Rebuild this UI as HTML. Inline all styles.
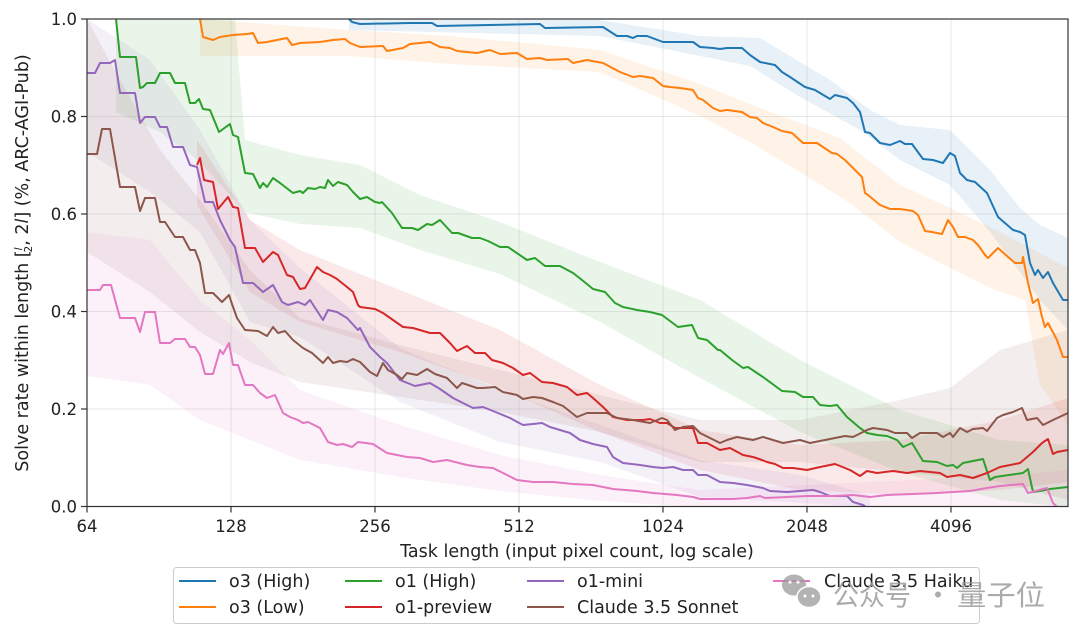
<!DOCTYPE html>
<html><head><meta charset="utf-8"><style>
html,body{margin:0;padding:0;background:#fff;}
svg{display:block;}
text{font-family:"DejaVu Sans","Liberation Sans",sans-serif;fill:#222;}
</style></head><body>
<svg width="1080" height="637" viewBox="0 0 1080 637" xmlns="http://www.w3.org/2000/svg">
<defs><clipPath id="pc"><rect x="87" y="19" width="981" height="488"/></clipPath></defs>
<rect x="0" y="0" width="1080" height="637" fill="#fff"/>
<g clip-path="url(#pc)">
<!-- bands -->
<g fill-opacity="0.1" stroke="none">
<polygon fill="#1f77b4" points="349,19 600,20 700,36 760,38 830,80 870,110 900,125 950,130 990,170 1020,208 1040,225 1068,238 1068,330 1040,300 1020,272 990,232 950,185 900,160 860,130 800,97 750,66 700,56 600,36 349,30"/>
<polygon fill="#ff7f0e" points="200,19 350,30 450,36 600,50 700,84 760,108 840,138 900,185 950,208 1000,232 1030,248 1068,268 1068,425 1040,385 1025,300 990,288 950,268 900,242 850,203 800,172 750,142 700,116 600,72 450,64 350,56 200,56"/>
<polygon fill="#2ca02c" points="116,19 235,19 245,140 300,155 360,165 420,195 500,222 600,262 700,300 800,360 900,410 1000,440 1068,445 1068,507 1000,500 900,472 800,432 700,378 600,322 500,274 420,250 360,228 300,224 245,212 200,162 160,132 116,112"/>
<polygon fill="#d62728" points="197,140 250,220 300,250 400,290 500,330 600,385 700,430 800,445 900,440 1000,420 1068,398 1068,482 1000,490 900,495 800,490 700,470 600,432 500,388 400,352 300,322 250,292 197,205"/>
<polygon fill="#9467bd" points="87,19 150,60 200,130 250,220 300,268 400,348 500,390 600,425 700,460 800,475 870,495 870,507 700,497 600,462 500,442 400,402 300,337 250,322 200,232 150,192 87,152"/>
<polygon fill="#8c564b" points="87,19 120,80 160,150 200,200 250,270 300,318 400,345 500,370 600,395 700,420 800,420 900,400 950,388 1000,350 1068,330 1068,500 1000,482 900,472 800,462 700,462 600,432 500,412 400,397 300,382 250,362 200,332 150,292 87,252"/>
<polygon fill="#e377c2" points="87,232 150,240 200,300 250,340 300,390 400,425 500,455 600,475 700,490 1000,476 1068,470 1068,507 700,507 600,501 500,491 400,477 330,465 300,460 250,440 200,420 150,385 87,376"/>
</g>
<!-- grid -->
<g stroke="#b0b0b0" stroke-opacity="0.3" stroke-width="1">
<line x1="87" y1="116.5" x2="1068" y2="116.5"/>
<line x1="87" y1="214" x2="1068" y2="214"/>
<line x1="87" y1="311.5" x2="1068" y2="311.5"/>
<line x1="87" y1="409" x2="1068" y2="409"/>
<line x1="231" y1="19" x2="231" y2="507"/>
<line x1="375" y1="19" x2="375" y2="507"/>
<line x1="519" y1="19" x2="519" y2="507"/>
<line x1="663" y1="19" x2="663" y2="507"/>
<line x1="807" y1="19" x2="807" y2="507"/>
<line x1="951" y1="19" x2="951" y2="507"/>
</g>
<!-- lines -->
<g fill="none" stroke-width="2" stroke-linejoin="round">
<polyline stroke="#1f77b4" points="349,19 352,22 360,24 410,23 432,23 437,26 540,24 545,28 603,27 617,36 627,36 633,38 637,36 647,36 663,42 693,42 700,47 713,48 720,49 727,48 742,48 750,55 760,62 775,65 782,72 790,77 805,87 815,90 830,99 835,95 847,98 853,103 860,112 865,132 870,133 880,143 890,145 900,141 905,144 912,144 923,159 933,160 943,163 950,153 955,156 960,173 967,180 975,182 987,193 998,217 1013,230 1020,232 1025,235 1030,263 1035,275 1038,270 1043,278 1048,272 1053,283 1063,300 1068,300"/>
<polyline stroke="#ff7f0e" points="200,19 203,37 213,40 220,37 233,35 247,34 253,33 258,43 267,42 277,40 287,38 292,45 300,43 320,42 333,40 345,39 350,43 360,47 383,46 387,51 403,48 410,44 430,42 440,47 450,48 457,51 477,53 490,50 500,54 517,53 527,59 540,58 547,60 568,59 573,63 587,60 603,63 620,72 633,77 640,76 653,78 663,86 670,87 680,88 693,90 698,98 703,100 713,108 720,111 727,110 742,112 750,117 757,118 763,123 773,127 782,131 792,133 803,143 817,143 832,153 837,154 845,160 857,172 862,177 865,193 868,195 880,205 890,209 900,209 913,211 918,215 925,231 932,232 942,234 948,220 953,227 958,237 965,237 973,240 978,245 985,255 988,258 998,248 1008,257 1015,263 1022,263 1023,257 1028,283 1033,303 1038,299 1042,317 1045,327 1048,323 1057,340 1063,357 1068,357"/>
<polyline stroke="#2ca02c" points="116,19 120,57 136,57 140,88 143,87 147,83 155,83 160,73 170,73 175,83 185,83 190,103 195,103 199,99 203,109 210,110 219,132 230,124 233,135 238,137 245,173 253,174 260,188 263,183 267,187 273,178 280,183 293,193 300,191 303,193 308,188 315,189 320,187 325,188 328,180 333,186 338,182 347,185 353,192 360,199 367,197 375,202 380,203 382,202 392,213 402,228 412,228 418,230 427,224 432,225 440,220 452,233 458,233 472,238 480,238 488,241 500,247 508,247 527,260 535,258 545,266 560,266 573,273 582,280 593,289 605,292 615,303 623,307 637,310 650,312 662,315 678,327 692,325 698,338 707,340 718,350 720,350 732,360 743,368 748,367 763,377 782,391 795,392 803,397 813,397 820,405 830,406 837,405 847,417 860,428 867,433 877,435 887,436 897,440 903,447 912,443 923,461 937,462 947,466 953,465 957,468 963,463 983,459 990,480 995,477 1023,473 1028,469 1033,492 1040,491 1050,489 1068,487"/>
<polyline stroke="#d62728" points="197,165 200,158 204,180 213,182 218,209 228,197 233,207 238,208 245,248 255,248 263,262 273,252 278,255 287,275 293,277 300,289 305,288 317,267 323,272 330,275 337,279 347,287 353,292 358,305 360,307 375,309 383,313 393,320 403,327 413,328 430,333 440,333 450,343 457,351 467,346 475,353 485,353 492,360 503,363 513,368 523,375 530,373 542,382 553,383 567,387 577,395 587,393 593,398 603,407 613,417 627,420 643,420 650,419 660,423 667,423 675,428 693,428 698,443 707,443 720,450 730,448 743,455 753,457 762,460 767,462 775,464 783,468 793,468 807,470 820,467 835,464 850,470 860,476 867,471 877,473 893,471 907,473 920,471 940,473 947,477 960,475 973,478 987,473 1000,467 1020,463 1033,452 1042,443 1048,439 1053,454 1057,452 1068,450"/>
<polyline stroke="#9467bd" points="87,73 95,73 100,63 110,63 115,60 120,93 135,93 140,123 145,117 155,117 160,127 167,127 173,147 183,147 190,165 197,167 205,202 213,202 220,220 230,240 235,247 243,283 253,283 263,292 273,285 282,302 288,305 298,302 305,305 310,300 323,320 328,310 337,312 347,318 358,330 360,328 370,347 380,357 387,363 400,380 415,386 430,383 440,389 453,398 463,403 473,408 483,407 493,411 510,418 523,425 533,424 542,423 550,427 560,430 570,433 580,440 593,444 607,447 613,457 623,463 640,465 653,467 663,468 673,467 683,470 693,470 698,475 707,475 720,482 733,483 747,485 763,488 770,491 787,492 813,490 820,492 830,496 847,496 853,502 863,505 866,507 1068,507"/>
<polyline stroke="#8c564b" points="87,154 97,154 102,129 110,129 120,187 135,187 140,211 145,198 155,198 160,222 165,222 175,237 183,237 190,250 195,250 200,263 205,293 213,293 222,302 229,295 232,304 237,318 245,330 258,331 267,336 273,327 278,333 285,331 293,340 303,348 312,353 323,363 328,357 333,363 340,361 347,362 353,359 360,362 370,372 377,376 383,363 388,370 397,375 402,379 407,373 417,375 427,369 435,374 447,378 457,388 462,383 477,388 483,388 495,387 503,392 517,395 523,399 533,397 542,398 553,402 563,406 577,417 587,413 607,413 617,418 633,420 650,423 662,418 667,420 675,430 683,427 693,426 700,433 710,438 720,443 727,440 737,437 753,440 763,437 773,440 783,443 800,440 810,443 830,439 845,436 853,437 867,430 873,428 887,430 895,433 907,433 912,438 920,433 937,433 943,437 950,433 953,437 960,428 967,432 973,429 983,428 987,431 997,418 1003,415 1013,412 1022,408 1027,420 1037,418 1043,425 1053,420 1068,413"/>
<polyline stroke="#e377c2" points="87,290 100,290 103,285 111,285 120,318 135,318 140,332 145,312 155,312 160,343 170,343 175,339 185,339 190,347 195,347 200,355 205,374 213,374 220,350 223,354 229,343 233,365 238,365 245,385 253,385 260,393 267,398 275,395 283,413 290,417 298,420 303,423 308,422 320,428 328,442 337,445 343,444 352,447 358,442 373,444 387,453 407,457 420,458 433,462 447,460 467,465 480,467 493,468 507,475 517,480 533,482 553,482 573,484 593,485 613,489 637,491 653,493 677,495 693,497 700,499 720,499 733,499 747,498 760,496 765,498 787,497 807,496 833,496 853,495 870,497 887,495 913,494 937,493 953,492 970,491 987,488 1000,486 1023,484 1028,493 1047,488 1053,503 1057,507 1068,507"/>
</g>
</g>
<!-- spines -->
<rect x="87" y="19" width="981" height="487.5" fill="none" stroke="#333" stroke-width="1.2"/>
<!-- ticks -->
<g stroke="#333" stroke-width="1.2">
<line x1="81" y1="19" x2="87" y2="19"/>
<line x1="81" y1="116.5" x2="87" y2="116.5"/>
<line x1="81" y1="214" x2="87" y2="214"/>
<line x1="81" y1="311.5" x2="87" y2="311.5"/>
<line x1="81" y1="409" x2="87" y2="409"/>
<line x1="81" y1="506.5" x2="87" y2="506.5"/>
<line x1="87" y1="506.5" x2="87" y2="512.5"/>
<line x1="231" y1="506.5" x2="231" y2="512.5"/>
<line x1="375" y1="506.5" x2="375" y2="512.5"/>
<line x1="519" y1="506.5" x2="519" y2="512.5"/>
<line x1="663" y1="506.5" x2="663" y2="512.5"/>
<line x1="807" y1="506.5" x2="807" y2="512.5"/>
<line x1="951" y1="506.5" x2="951" y2="512.5"/>
</g>
<g font-size="16.5" text-anchor="end">
<text x="77" y="25">1.0</text>
<text x="77" y="122.5">0.8</text>
<text x="77" y="220">0.6</text>
<text x="77" y="317.5">0.4</text>
<text x="77" y="415">0.2</text>
<text x="77" y="512.5">0.0</text>
</g>
<g font-size="16.5" text-anchor="middle">
<text x="87" y="532">64</text>
<text x="231" y="532">128</text>
<text x="375" y="532">256</text>
<text x="519" y="532">512</text>
<text x="663" y="532">1024</text>
<text x="807" y="532">2048</text>
<text x="951" y="532">4096</text>
</g>
<g font-size="17.5" text-anchor="middle">
<text x="577" y="557">Task length (input pixel count, log scale)</text>
<text x="28" y="263" transform="rotate(-90 28 263)">Solve rate within length [<tspan font-size="10.5" font-style="italic" dy="-6">l</tspan><tspan font-size="10.5" dx="-5" dy="10">2</tspan><tspan dy="-4">, 2</tspan><tspan font-style="italic">l</tspan>] (%, ARC-AGI-Pub)</text>
</g>
<!-- legend -->
<rect x="173.5" y="567.5" width="806" height="56" rx="3" fill="#fff" fill-opacity="0.8" stroke="#cccccc" stroke-width="1"/>
<g stroke-width="2">
<line x1="179" y1="581" x2="216" y2="581" stroke="#1f77b4"/>
<line x1="179" y1="607" x2="216" y2="607" stroke="#ff7f0e"/>
<line x1="345" y1="581" x2="382" y2="581" stroke="#2ca02c"/>
<line x1="345" y1="607" x2="382" y2="607" stroke="#d62728"/>
<line x1="527" y1="581" x2="564" y2="581" stroke="#9467bd"/>
<line x1="527" y1="607" x2="564" y2="607" stroke="#8c564b"/>
<line x1="773" y1="581" x2="810" y2="581" stroke="#e377c2"/>
</g>
<g font-size="17.5">
<text x="229" y="587">o3 (High)</text>
<text x="229" y="613">o3 (Low)</text>
<text x="395" y="587">o1 (High)</text>
<text x="395" y="613">o1-preview</text>
<text x="577" y="587">o1-mini</text>
<text x="577" y="613">Claude 3.5 Sonnet</text>
<text x="824" y="587">Claude 3.5 Haiku</text>
</g>
<!-- watermark -->
<g opacity="0.75">
<ellipse cx="794" cy="585" rx="12" ry="10.5" fill="#9a9a9a"/>
<ellipse cx="809" cy="597" rx="12" ry="10.5" fill="#9a9a9a" stroke="#fff" stroke-width="1.5"/>
<circle cx="790" cy="582" r="1.6" fill="#fff"/>
<circle cx="798" cy="582" r="1.6" fill="#fff"/>
<circle cx="805" cy="596" r="1.5" fill="#fff"/>
<circle cx="813" cy="596" r="1.5" fill="#fff"/>
</g>
<g font-size="28">
<text x="833" y="605" textLength="78" lengthAdjust="spacingAndGlyphs" style="fill:#9c9c9c;fill-opacity:0.85;font-family:'Noto Sans CJK SC','WenQuanYi Zen Hei',sans-serif">公众号</text>
<text x="924" y="605" style="fill:#9c9c9c;fill-opacity:0.85;font-family:'Noto Sans CJK SC','WenQuanYi Zen Hei',sans-serif">·</text>
<text x="957" y="605" textLength="88" lengthAdjust="spacingAndGlyphs" style="fill:#9c9c9c;fill-opacity:0.85;font-family:'Noto Sans CJK SC','WenQuanYi Zen Hei',sans-serif">量子位</text>
</g>
</svg>
</body></html>
